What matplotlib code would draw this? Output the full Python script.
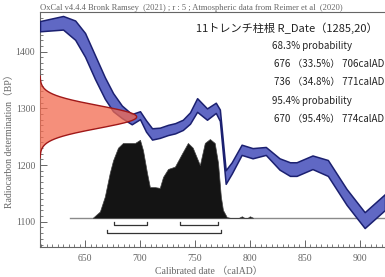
import numpy as np
import matplotlib
matplotlib.use("Agg")
import matplotlib.pyplot as plt
from matplotlib.ticker import MultipleLocator

# ---- data ----
curve_year = [609, 630, 641, 650, 659, 668, 675.5, 683.5, 692.5, 700, 705.5, 711, 718, 725.5,
              732, 739, 745.5, 752, 761, 769, 772.7, 778, 783.5, 792.5, 802.5, 814.5, 827,
              836.5, 842.5, 857, 871, 888, 904.5, 923]
curve_bp = [1445, 1451, 1438, 1412, 1373, 1336, 1311, 1294, 1281, 1288, 1269, 1255, 1257, 1262,
            1265, 1271, 1283, 1306, 1290, 1301, 1288, 1179, 1195, 1227, 1221, 1225, 1202,
            1193, 1193, 1205, 1195, 1144, 1103, 1135]
curve_hw = [9, 12, 17, 21, 21, 19, 16, 11, 9, 7, 10, 10, 9, 9,
            9, 9, 10, 12, 10, 9, 10, 12, 10, 9, 9, 7, 10,
            12, 12, 12, 14, 14, 14, 14]

post_year = [657, 663.5, 668, 672.5, 675.5, 680, 684.5, 691, 695.5, 700, 702.7, 706.4, 709, 713.6,
             718, 721, 725.5, 731.8, 738, 743.6, 748, 754.5, 759, 763.6, 768, 771, 773.6,
             775.5, 779, 782, 790, 792.7, 795, 798, 800, 803]
post_prob = [0, 0.08, 0.27, 0.57, 0.73, 0.89, 0.95, 0.95, 0.95, 0.99, 0.86, 0.57, 0.39, 0.39,
             0.38, 0.52, 0.62, 0.65, 0.81, 0.95, 0.89, 0.67, 0.95, 1.0, 0.95, 0.70, 0.27,
             0.10, 0.01, 0.0, 0.0, 0.02, 0.0, 0.0, 0.02, 0.0]

r_mean, r_sd = 1285, 20
range68 = [(676, 706), (736, 771)]
range95 = [(670, 774)]

title_txt = "11トレンチ柱根 R_Date（1285,20）"
lines_txt = ["68.3% probability", "676 （33.5%） 706calAD", "736 （34.8%） 771calAD",
             "95.4% probability", "670 （95.4%） 774calAD"]
header_txt = "OxCal v4.4.4 Bronk Ramsey  (2021) ; r : 5 ; Atmospheric data from Reimer et al  (2020)"

# ---- figure ----
fig = plt.figure(figsize=(3.85, 2.77), dpi=100)
ax = fig.add_axes([40/385, 30/277, 1 - 40/385, 235/277])
x0, x1 = 609, 923
y0, y1 = 1055.6, 1470
ax.set_xlim(x0, x1)
ax.set_ylim(y0, y1)

gray = "#666666"
# baseline for posterior
base = 1107
hscale = 139
ax.plot([636, x1], [base, base], color="#8a8a8a", lw=1.0, zorder=1)

# posterior
py = np.array(post_year)
pp = np.array(post_prob)
ax.fill_between(py, base, base + pp * hscale, color="#141414", edgecolor="#444444", lw=0.5, zorder=2)

# calibration curve
cy = np.array(curve_year)
cb = np.array(curve_bp)
ch = np.array(curve_hw)
ax.fill_between(cy, cb - ch, cb + ch, facecolor="#6068c4", edgecolor="#1b2070", lw=1.1, zorder=3)

# radiocarbon gaussian on y-axis
bp = np.linspace(r_mean - 3.6 * r_sd, r_mean + 3.6 * r_sd, 300)
g = np.exp(-0.5 * ((bp - r_mean) / r_sd) ** 2)
width = 88
ax.fill_betweenx(bp, x0, x0 + width * g, facecolor="#f26a4f", alpha=0.75, edgecolor="none", zorder=4)
ax.plot(x0 + width * g, bp, color="#a01818", lw=1.0, zorder=5)

# ranges brackets
def bracket(a, b, y, h):
    ax.plot([a, a, b, b], [y + h, y, y, y + h], color="#333333", lw=0.9, zorder=5)

for a, b in range68:
    bracket(a, b, 1094, 5)
for a, b in range95:
    bracket(a, b, 1080, 5)

# axes styling
ax.spines["right"].set_visible(False)
for s in ["left", "bottom", "top"]:
    ax.spines[s].set_color(gray)
    ax.spines[s].set_linewidth(0.8)
ax.xaxis.set_major_locator(MultipleLocator(50))
ax.xaxis.set_minor_locator(MultipleLocator(5))
ax.yaxis.set_major_locator(MultipleLocator(100))
ax.yaxis.set_minor_locator(MultipleLocator(10))
ax.tick_params(which="both", direction="in", colors=gray, labelsize=7, top=False, right=False)
ax.tick_params(which="major", length=5, width=0.7)
ax.tick_params(which="minor", length=2, width=0.6)
ax.set_xticks([650, 700, 750, 800, 850, 900])
ax.set_yticks([1100, 1200, 1300, 1400])
for lab in ax.get_xticklabels() + ax.get_yticklabels():
    lab.set_family("Liberation Serif")
    lab.set_color(gray)
ax.tick_params(axis="x", which="major", pad=5)

ax.set_ylabel("Radiocarbon determination（BP）", family=["Liberation Serif", "Noto Sans CJK JP"],
              fontsize=7, color=gray)
ax.set_xlabel("Calibrated date （calAD）", family=["Liberation Serif", "Noto Sans CJK JP"],
              fontsize=7, color=gray)
ax.yaxis.set_label_coords(-0.075, 0.46)
ax.xaxis.set_label_coords(0.49, -0.085)

fig.text(40/385, 1 - 12/277, header_txt, family="Liberation Serif", fontsize=6.1,
         color=gray, ha="left", va="bottom")

jp = ["Noto Sans CJK JP", "DejaVu Sans"]
fig.text(196/385, 1 - 28/277, title_txt, family=jp, fontsize=8, color="#222222", ha="left", va="center")
ys = [46, 64, 82, 101, 119]
xs = [272, 274, 274, 272, 274]
for t, yy, xx in zip(lines_txt, ys, xs):
    fig.text(xx/385, 1 - yy/277, t, family=jp, fontsize=7, color="#222222", ha="left", va="center")

fig.savefig("out.png", dpi=100)
